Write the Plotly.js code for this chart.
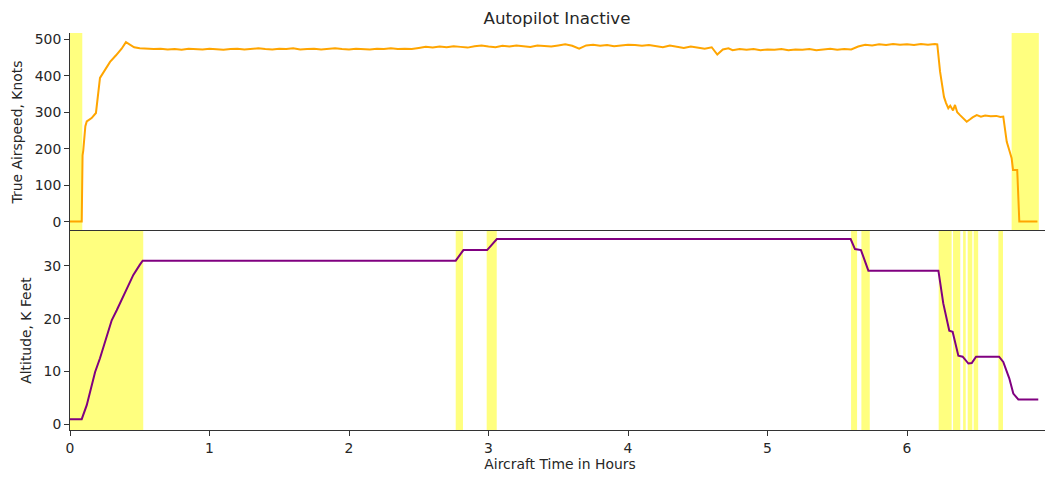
<!DOCTYPE html>
<html>
<head>
<meta charset="utf-8">
<script src="https://cdn.plot.ly/plotly-3.0.1.min.js"></script>
<style>
html,body{margin:0;padding:0;overflow:hidden;background:#fff;}
#chart{width:1050px;height:478px;}
</style>
</head>
<body>
<div id="chart"></div>
<script>
// ---- Data (hours, knots / thousand feet) ----
const tasTime = [0, 0.084, 0.09, 0.095, 0.11, 0.12, 0.155, 0.186, 0.215, 0.25, 0.287, 0.33, 0.37, 0.401, 0.43, 0.46, 0.5, 0.55,
  0.60, 0.65, 0.70, 0.75, 0.80, 0.85, 0.90, 0.95, 1.00, 1.05, 1.10, 1.15, 1.20, 1.25, 1.30, 1.35, 1.40, 1.45, 1.50, 1.55,
  1.60, 1.65, 1.70, 1.75, 1.80, 1.85, 1.90, 1.95, 2.00, 2.05, 2.10, 2.15, 2.20, 2.25, 2.30, 2.35, 2.40, 2.45, 2.50, 2.55,
  2.60, 2.65, 2.70, 2.75, 2.80, 2.85, 2.90, 2.95, 3.00, 3.05, 3.10, 3.15, 3.20, 3.25, 3.30, 3.35, 3.40, 3.45, 3.50, 3.55,
  3.60, 3.65, 3.70, 3.75, 3.80, 3.85, 3.90, 3.95, 4.00, 4.05, 4.10, 4.15, 4.20, 4.25, 4.30, 4.35, 4.40, 4.45, 4.50, 4.55,
  4.60, 4.64, 4.68, 4.72, 4.75, 4.80, 4.85, 4.90, 4.95, 5.00, 5.05, 5.10, 5.15, 5.20, 5.25, 5.30, 5.35, 5.40, 5.45, 5.50,
  5.55, 5.60, 5.65, 5.70, 5.75, 5.80, 5.85, 5.90, 5.95, 6.00, 6.05, 6.10, 6.15, 6.20, 6.217,
  6.237, 6.25, 6.265, 6.28, 6.296, 6.31, 6.33, 6.344, 6.36, 6.38, 6.40, 6.428, 6.45, 6.47, 6.50, 6.53, 6.56, 6.60, 6.64,
  6.67, 6.69, 6.715, 6.73, 6.75, 6.76, 6.79, 6.805, 6.935];
const tasKnots = [1, 1, 182, 195, 262, 275, 284, 298, 394, 415, 438, 456, 474, 492, 486, 478, 475, 473,
  473, 474, 472, 473, 471, 474, 473, 472, 474, 473, 471, 473, 474, 472, 473, 475, 473, 472, 474, 473,
  475, 472, 473, 474, 472, 473, 475, 473, 472, 474, 473, 472, 474, 473, 475, 473, 474, 473, 476, 479,
  477, 480, 478, 481, 479, 477, 481, 483, 480, 478, 482, 480, 483, 481, 479, 483, 481, 480, 483, 486,
  482, 474, 483, 485, 482, 484, 481, 483, 485, 484, 482, 484, 481, 478, 483, 479, 476, 480, 477, 474,
  478, 458, 472, 475, 470, 473, 471, 473, 470, 472, 471, 473, 470, 472, 471, 473, 470, 472, 474, 471,
  473, 472, 480, 485, 483, 486, 484, 487, 485, 486, 484, 487, 485, 487, 486,
  411, 380, 342, 325, 311, 318, 305, 320, 300, 292, 285, 274, 280, 286, 292, 288, 291, 289, 290,
  287, 288, 219, 200, 174, 142, 142, 1, 1];

const altTime = [0, 0.084, 0.12, 0.18, 0.215, 0.299, 0.335, 0.454, 0.50, 0.521, 2.765, 2.82, 2.99, 3.06,
  5.596, 5.627, 5.670, 5.723, 6.225, 6.26, 6.303, 6.327, 6.368, 6.399, 6.44, 6.464, 6.495, 6.66, 6.69,
  6.733, 6.762, 6.798, 6.941];
const altKFeet = [0.95, 0.95, 3.6, 9.9, 12.5, 19.7, 21.6, 28.3, 30.2, 31.0, 31.0, 33.0, 33.0, 35.1,
  35.1, 33.2, 33.0, 29.1, 29.1, 22.9, 17.7, 17.5, 13.0, 12.8, 11.5, 11.6, 12.8, 12.8, 11.8,
  8.7, 5.8, 4.7, 4.7];

// Autopilot-inactive intervals (hours)
const tasInactiveStart = [0, 6.75];
const tasInactiveEnd   = [0.088, 6.945];
const altInactiveStart = [0, 2.765, 2.987, 5.599, 5.673, 6.227, 6.330, 6.402, 6.435, 6.478, 6.655];
const altInactiveEnd   = [0.525, 2.817, 3.059, 5.642, 5.733, 6.320, 6.382, 6.421, 6.468, 6.510, 6.688];

const xTicks = [0, 1, 2, 3, 4, 5, 6, 7];
const tasTicks = [0, 100, 200, 300, 400, 500];
const altTicks = [0, 10, 20, 30];

// ---- Build ----
const band = (s, e, yref) => s.map((x0, i) => ({
  type: 'rect', xref: 'x', yref: yref, x0: x0, x1: e[i], y0: 0, y1: 1,
  fillcolor: 'rgba(255,255,0,0.5)', line: {width: 0}, layer: 'below'
}));
const shapes = band(tasInactiveStart, tasInactiveEnd, 'y domain')
  .concat(band(altInactiveStart, altInactiveEnd, 'y2 domain'));

const FAM = 'DejaVu Sans, sans-serif';
const TXT = '#262626';
const axisCommon = {
  showline: true, mirror: true, linecolor: '#333', linewidth: 1,
  ticks: 'outside', ticklen: 5, tickcolor: '#333', showgrid: false, zeroline: false,
  tickfont: {family: FAM, size: 13.9, color: TXT}
};

const data = [
  {x: tasTime, y: tasKnots, type: 'scatter', mode: 'lines', xaxis: 'x', yaxis: 'y',
   line: {color: '#FFA500', width: 2}, hoverinfo: 'skip'},
  {x: altTime, y: altKFeet, type: 'scatter', mode: 'lines', xaxis: 'x', yaxis: 'y2',
   line: {color: '#800080', width: 2}, hoverinfo: 'skip'}
];

const layout = {
  width: 1050, height: 478,
  margin: {l: 70, r: 0, t: 33, b: 48},
  paper_bgcolor: '#fff', plot_bgcolor: '#fff',
  font: {family: FAM, color: TXT, size: 13.9}, showlegend: false,
  title: {text: 'Autopilot Inactive', x: 0.5305, xanchor: 'center', y: 0.963, yanchor: 'middle',
          font: {family: FAM, size: 16.7, color: TXT}},
  xaxis: Object.assign({}, axisCommon, {
    range: [0, 7.025], tickvals: xTicks, anchor: 'y2',
    title: {text: 'Aircraft Time in Hours', standoff: 2, font: {size: 13.9}}
  }),
  yaxis: Object.assign({}, axisCommon, {
    domain: [0.501, 1], range: [-25.5, 517], tickvals: tasTicks, anchor: 'x',
    title: {text: 'True Airspeed, Knots', standoff: 8, font: {size: 13.9}}
  }),
  yaxis2: Object.assign({}, axisCommon, {
    domain: [0, 0.501], range: [-1.1, 36.6], tickvals: altTicks, anchor: 'x',
    title: {text: 'Altitude, K Feet', standoff: 8, font: {size: 13.9}}
  }),
  shapes: shapes
};

Plotly.newPlot('chart', data, layout, {staticPlot: true, displayModeBar: false});
</script>
</body>
</html>
